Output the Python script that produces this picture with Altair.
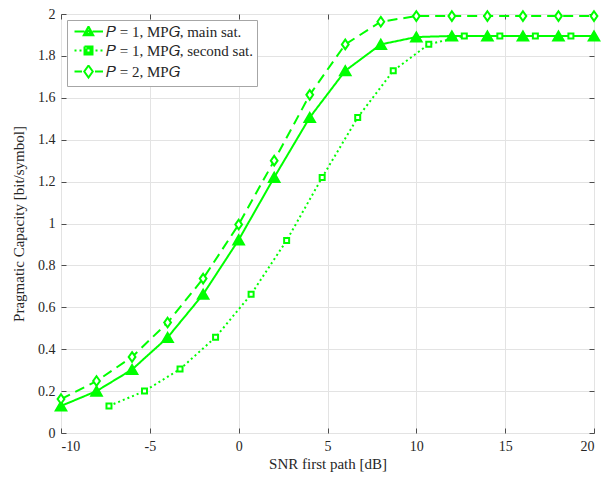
import altair as alt
import pandas as pd

GREEN = "#00ff00"
AXIS_COLOR = "#4d4d4d"
GRID_COLOR = "#e3e3e3"
FONT = "Liberation Serif"

series_names = ["𝑃 = 1, MP𝐺, main sat.", "𝑃 = 1, MP𝐺, second sat.", "𝑃 = 2, MP𝐺"]

snr_main = [-10, -8, -6, -4, -2, 0, 2, 4, 6, 8, 10, 12, 14, 16, 18, 20]
cap_main = [0.129, 0.20, 0.303, 0.456, 0.662, 0.922, 1.22, 1.506, 1.729, 1.855,
            1.89, 1.895, 1.895, 1.895, 1.895, 1.895]

snr_second = [-7.3, -5.3, -3.3, -1.3, 0.7, 2.7, 4.7, 6.7, 8.7, 10.7, 12.7, 14.7, 16.7, 18.7]
cap_second = [0.129, 0.20, 0.305, 0.457, 0.662, 0.919, 1.22, 1.506, 1.729, 1.856,
              1.895, 1.895, 1.895, 1.895]

snr_p2 = [-10, -8, -6, -4, -2, 0, 2, 4, 6, 8, 10, 12, 14, 16, 18, 20]
cap_p2 = [0.162, 0.248, 0.363, 0.527, 0.737, 0.995, 1.30, 1.614, 1.855, 1.963,
          1.99, 1.99, 1.99, 1.99, 1.99, 1.99]

x_ticks = [-10, -5, 0, 5, 10, 15, 20]
y_ticks = [0, 0.2, 0.4, 0.6, 0.8, 1, 1.2, 1.4, 1.6, 1.8, 2]

rows = []
for name, xs, ys in [(series_names[0], snr_main, cap_main),
                     (series_names[1], snr_second, cap_second),
                     (series_names[2], snr_p2, cap_p2)]:
    for xv, yv in zip(xs, ys):
        rows.append({"snr": xv, "cap": yv, "series": name})
df = pd.DataFrame(rows)

xs = alt.Scale(domain=[-10, 20], nice=False, zero=False)
ys = alt.Scale(domain=[0, 2], nice=False)

# legend symbols: line segment + marker (custom paths, symbol size 100 -> 5 px per unit)
legend_paths = [
    "M -0.8 0 L 1.2 0 M 2.8 0 L 4.9 0 "
    "M 2 -0.35 L 2.45 0.45 L 1.55 0.45 L 2 -0.35 "
    "M 2 -1 L 2.95 0.75 L 1.05 0.75 L 2 -1",
    "M -0.8 0 L -0.4 0 M 0.2 0 L 0.6 0 M 3.4 0 L 3.8 0 M 4.4 0 L 4.8 0 "
    "M 1.6 -0.4 L 2.4 -0.4 L 2.4 0.4 L 1.6 0.4 L 1.6 -0.4 "
    "M 1.2 -0.8 L 2.8 -0.8 L 2.8 0.8 L 1.2 0.8 L 1.2 -0.8",
    "M -0.8 0 L 0.7 0 M 3.3 0 L 4.9 0 M 2 -1.2 L 2.85 0 L 2 1.2 L 1.15 0 L 2 -1.2",
]
tall_diamond = "M 0 -1.2 L 0.85 0 L 0 1.2 L -0.85 0 Z"

base = alt.Chart(df)

main_x_axis = alt.Axis(orient="bottom", values=x_ticks, title="SNR first path [dB]",
                       grid=True, gridColor=GRID_COLOR, ticks=False, domain=False,
                       labelExpr="'' + datum.value", labelFont=FONT, labelFontSize=14,
                       labelColor="#262626", labelPadding=6, titleFont=FONT,
                       titleFontSize=15, titleFontWeight="normal", titleColor="#262626",
                       titlePadding=3)
main_y_axis = alt.Axis(orient="left", values=y_ticks, title="Pragmatic Capacity [bit/symbol]",
                       grid=True, gridColor=GRID_COLOR, ticks=False, domain=False,
                       labelExpr="'' + datum.value", labelFont=FONT, labelFontSize=14,
                       labelColor="#262626", labelPadding=6, titleFont=FONT,
                       titleFontSize=15, titleFontWeight="normal", titleColor="#262626",
                       titlePadding=11)

lines = base.mark_line(strokeWidth=2, color=GREEN, strokeCap="butt").encode(
    x=alt.X("snr:Q", scale=xs, axis=main_x_axis),
    y=alt.Y("cap:Q", scale=ys, axis=main_y_axis),
    strokeDash=alt.StrokeDash("series:N", scale=alt.Scale(domain=series_names,
                              range=[[1, 0], [2, 3], [10, 6]]), legend=None),
)


def marker_layer(name, shape, size, fill):
    return base.mark_point(shape=shape, size=size, fill=fill, stroke=GREEN,
                           strokeWidth=2, opacity=1, filled=False).encode(
        x=alt.X("snr:Q", scale=xs, axis=None),
        y=alt.Y("cap:Q", scale=ys, axis=None),
    ).transform_filter(alt.datum.series == name)


tri_pts = marker_layer(series_names[0], "triangle-up", 110, GREEN)
sq_pts = marker_layer(series_names[1], "square", 25, "white")
dia_pts = marker_layer(series_names[2], tall_diamond, 64, "white")

legend_layer = base.mark_point(strokeWidth=2, stroke=GREEN, fill="white", opacity=1).encode(
    x=alt.X("snr:Q", scale=xs, axis=None),
    y=alt.Y("cap:Q", scale=ys, axis=None),
    shape=alt.Shape("series:N", scale=alt.Scale(domain=series_names, range=legend_paths),
                    legend=alt.Legend(title=None, orient="top-left", offset=6, padding=4,
                                      strokeColor="#a6a6a6", fillColor="white",
                                      labelFont=FONT, labelFontSize=15, labelColor="#262626",
                                      symbolSize=100, symbolStrokeWidth=2,
                                      labelOffset=20, rowPadding=2)),
).transform_filter("false")

tick_common = dict(labels=False, domain=False, grid=False, title=None, tickSize=5,
                   tickColor=AXIS_COLOR, offset=-5)

ticks_bl = base.mark_point(opacity=0).encode(
    x=alt.X("snr:Q", scale=xs, axis=alt.Axis(orient="bottom", values=x_ticks, **tick_common)),
    y=alt.Y("cap:Q", scale=ys, axis=alt.Axis(orient="left", values=y_ticks, **tick_common)),
).transform_filter("false")

ticks_tr = base.mark_point(opacity=0).encode(
    x=alt.X("snr:Q", scale=xs, axis=alt.Axis(orient="top", values=x_ticks, **tick_common)),
    y=alt.Y("cap:Q", scale=ys, axis=alt.Axis(orient="right", values=y_ticks, **tick_common)),
).transform_filter("false")

chart = alt.layer(lines, tri_pts, sq_pts, dia_pts, legend_layer, ticks_bl, ticks_tr).resolve_scale(
    shape="independent"
).resolve_axis(
    x="independent", y="independent"
).properties(
    width=533, height=419,
    autosize=alt.AutoSizeParams(type="none"),
    padding={"left": 53, "top": 6, "right": 8, "bottom": 40},
).configure_view(
    stroke=AXIS_COLOR, strokeWidth=1
).configure(background="white")

chart.save("out.html", embed_options={"renderer": "svg", "actions": False})
